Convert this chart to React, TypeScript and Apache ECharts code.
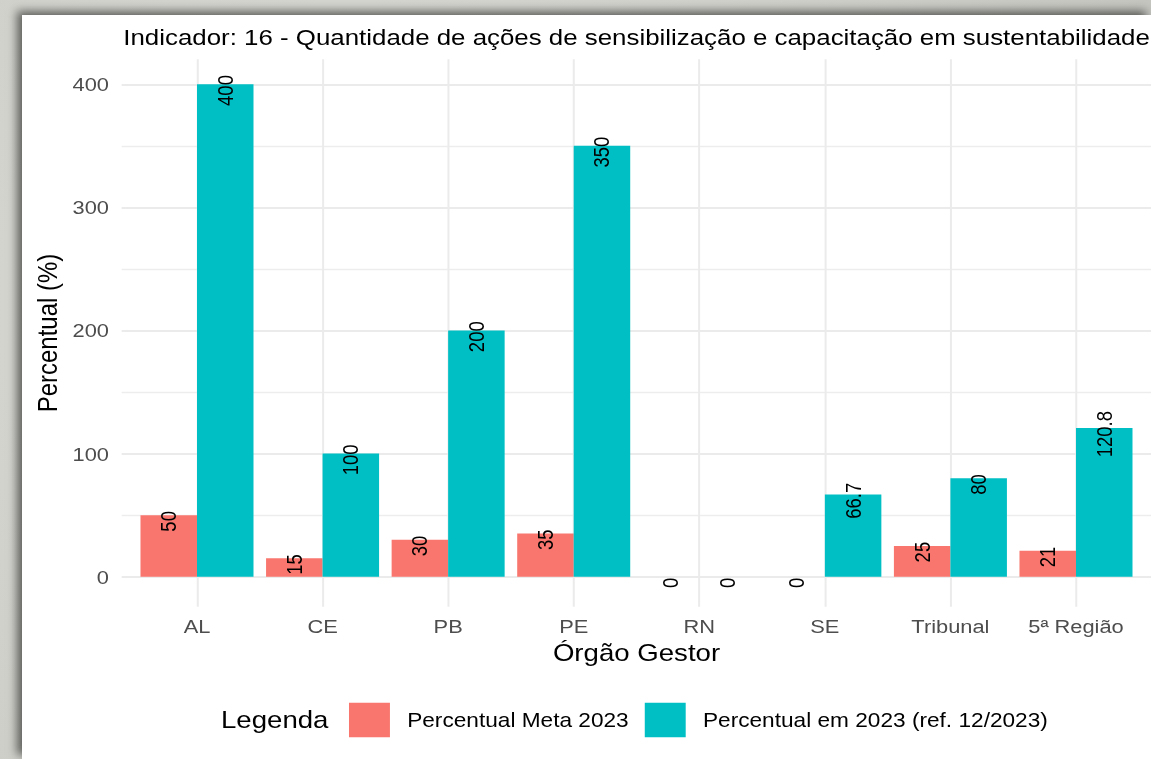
import React, { useEffect, useRef } from 'react';
import * as echarts from 'echarts';

const categories = ['AL', 'CE', 'PB', 'PE', 'RN', 'SE', 'Tribunal', '5ª Região'];
const metaValues = [50, 15, 30, 35, 0, 0, 25, 21];
const realValues = [400, 100, 200, 350, 0, 66.7, 80, 120.8];
const seriesNames = ['Percentual Meta 2023', 'Percentual em 2023 (ref. 12/2023)'];
const yTicks = [0, 100, 200, 300, 400];
const titleText =
  'Indicador: 16 - Quantidade de ações de sensibilização e capacitação em sustentabilidade';
const xTitle = 'Órgão Gestor';
const yTitle = 'Percentual (%)';
const legendTitle = 'Legenda';

const FF = "'Liberation Sans', Arial, Helvetica, sans-serif";
const PAGE_W = 1151;
const PAGE_H = 759;
const INNER_W = 1001;
const S = PAGE_W / INNER_W;

export default function App() {
  const ref = useRef<HTMLDivElement>(null);

  useEffect(() => {
    if (!ref.current) return;
    const chart = echarts.init(ref.current, undefined, { renderer: 'svg' });

    const band = 125.57 / S;
    const firstCenter = 197 / S;
    const panelLeft = firstCenter - 0.6 * band;
    const y400 = 84.3;
    const y0 = 576.7;
    const panelTop = 59.3;
    const panelBottom = 606.7;

    const yMin = yTicks[0];
    const yMax = yTicks[yTicks.length - 1];
    const yInterval = yTicks[1] - yTicks[0];

    const barLabel = {
      show: true,
      position: 'insideTop',
      distance: 6.2,
      rotate: 90,
      align: 'center',
      verticalAlign: 'middle',
      fontSize: 18.5,
      fontFamily: FF,
      color: '#000',
    };

    chart.setOption({
      animation: false,
      backgroundColor: 'transparent',
      title: {
        text: titleText,
        left: 123.3 / S,
        top: 26,
        padding: 0,
        textStyle: { fontSize: 22.5, fontWeight: 'normal', color: '#000', fontFamily: FF },
      },
      grid: [
        { left: panelLeft, right: 0, top: y400, height: y0 - y400, outerBoundsMode: 'none' },
        { left: firstCenter - 0.5 * band, width: 8 * band, top: y400, height: y0 - y400, outerBoundsMode: 'none' },
        { left: firstCenter, width: 7 * band, top: panelTop, height: panelBottom - panelTop, outerBoundsMode: 'none' },
      ],
      xAxis: [
        { gridIndex: 0, type: 'value', min: 0, max: 1, show: false },
        {
          gridIndex: 1,
          type: 'category',
          data: categories,
          axisLine: { show: false },
          axisTick: { show: false },
          splitLine: { show: false },
          axisLabel: { interval: 0, margin: 40, fontSize: 19, fontFamily: FF, color: '#4d4d4d' },
          name: xTitle,
          nameLocation: 'middle',
          nameGap: 64,
          nameTextStyle: { fontSize: 24, fontFamily: FF, color: '#000' },
        },
        {
          gridIndex: 2,
          type: 'category',
          data: categories,
          boundaryGap: false,
          axisLine: { show: false },
          axisTick: { show: false },
          axisLabel: { show: false, interval: 0 },
          splitLine: { show: true, interval: 0, lineStyle: { color: '#ebebeb', width: 1.75 } },
        },
      ],
      yAxis: [
        {
          gridIndex: 0,
          type: 'value',
          min: yMin,
          max: yMax,
          interval: yInterval,
          axisLine: { show: false },
          axisTick: { show: false },
          axisLabel: { margin: 11, fontSize: 19, fontFamily: FF, color: '#4d4d4d' },
          splitLine: { show: true, lineStyle: { color: '#ebebeb', width: 2 } },
          minorTick: { show: false, splitNumber: 2 },
          minorSplitLine: { show: true, lineStyle: { color: '#ededed', width: 1.3 } },
        },
        { gridIndex: 1, type: 'value', min: yMin, max: yMax, show: false },
        { gridIndex: 2, type: 'value', min: 0, max: 1, show: false },
      ],
      legend: {
        data: seriesNames,
        left: 349 / S,
        top: 702.7,
        padding: 0,
        itemWidth: 35.6,
        itemHeight: 34.6,
        itemGap: 14,
        icon: 'rect',
        selectedMode: false,
        textStyle: { fontSize: 19.7, fontFamily: FF, color: '#000', padding: [0, 0, 0, 10] },
      },
      graphic: [
        {
          type: 'text',
          x: 221 / S,
          y: 720,
          style: {
            text: legendTitle,
            fontSize: 24,
            fontFamily: FF,
            fill: '#000',
            align: 'left',
            verticalAlign: 'middle',
          },
        },
        {
          type: 'text',
          x: 47 / S,
          y: 333,
          rotation: Math.PI / 2,
          style: {
            text: yTitle,
            fontSize: 24,
            fontFamily: FF,
            fill: '#000',
            align: 'center',
            verticalAlign: 'middle',
          },
        },
      ],
      series: [
        {
          name: seriesNames[0],
          type: 'bar',
          xAxisIndex: 1,
          yAxisIndex: 1,
          data: metaValues,
          barGap: '0%',
          barCategoryGap: '10%',
          itemStyle: { color: '#F8766D' },
          label: barLabel,
        },
        {
          name: seriesNames[1],
          type: 'bar',
          xAxisIndex: 1,
          yAxisIndex: 1,
          data: realValues,
          barGap: '0%',
          barCategoryGap: '10%',
          itemStyle: { color: '#00BFC4' },
          label: barLabel,
        },
      ],
    });

    return () => chart.dispose();
  }, []);

  return (
    <div
      style={{
        position: 'fixed',
        left: 0,
        top: 0,
        width: PAGE_W,
        height: PAGE_H,
        overflow: 'hidden',
        background:
          'radial-gradient(circle at 30% 40%, #dcdcd7 0%, #cfcfca 60%, #c4c4bf 100%)',
      }}
    >
      <div
        style={{
          position: 'absolute',
          left: 22,
          top: 15,
          right: 0,
          bottom: 0,
          background: '#ffffff',
          boxShadow: '-5px -4px 9px rgba(0,0,0,0.55)',
        }}
      />
      <div
        ref={ref}
        style={{
          position: 'absolute',
          left: 0,
          top: 0,
          width: INNER_W,
          height: PAGE_H,
          transform: `scaleX(${S})`,
          transformOrigin: '0 0',
        }}
      />
    </div>
  );
}
